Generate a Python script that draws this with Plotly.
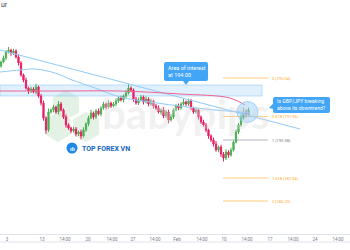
import plotly.graph_objects as go

# ---------------- data ----------------
close = [196.32,196.64,197.12,197.28,197.04,197.20,196.72,196.24,195.28,194.88,
         194.24,194.00,194.16,193.92,194.32,193.60,193.04,191.84,190.88,192.32,
         192.48,192.72,192.32,192.96,192.48,191.92,191.28,191.04,190.80,190.96,
         190.56,190.72,190.40,190.88,191.36,191.84,192.24,191.92,192.40,192.16,
         192.64,192.96,192.72,193.04,192.80,192.96,193.20,193.44,193.28,193.60,
         193.84,194.24,194.08,193.36,193.04,193.28,193.52,193.12,193.36,192.96,
         193.20,192.80,192.64,192.32,192.48,192.00,192.32,191.68,191.92,192.48,
         192.80,192.64,192.96,193.12,192.96,193.20,192.64,192.32,192.48,191.92,
         191.52,191.28,190.88,190.40,190.08,189.76,189.28,189.52,188.96,188.64,
         189.12,188.88,189.28,189.92,190.72,191.28,191.84,192.32,192.08,192.48]
first_open = 196.00
up_wick = [0.12,0.20,0.15,0.24,0.10,0.18,0.14,0.22,0.16,0.12,
           0.20,0.10,0.18,0.14,0.26,0.12,0.16,0.20,0.14,0.28,
           0.12,0.18,0.10,0.24,0.16,0.12,0.20,0.14,0.10,0.18,
           0.16,0.12,0.20,0.22,0.14,0.18,0.26,0.12,0.16,0.20,
           0.14,0.18,0.12,0.22,0.10,0.16,0.20,0.14,0.18,0.12,
           0.24,0.30,0.14,0.12,0.18,0.20,0.16,0.12,0.22,0.14,
           0.18,0.10,0.16,0.20,0.12,0.24,0.14,0.18,0.22,0.12,
           0.16,0.20,0.14,0.26,0.12,0.18,0.16,0.10,0.20,0.14,
           0.12,0.18,0.16,0.10,0.14,0.20,0.24,0.12,0.18,0.16,
           0.22,0.14,0.18,0.12,0.20,0.16,0.28,0.34,0.22,0.18]
down_wick = [0.14,0.10,0.18,0.12,0.22,0.16,0.12,0.20,0.14,0.18,
             0.12,0.24,0.16,0.10,0.18,0.14,0.20,0.22,0.30,0.16,
             0.12,0.18,0.14,0.20,0.10,0.16,0.22,0.14,0.18,0.12,
             0.20,0.16,0.26,0.12,0.14,0.18,0.10,0.20,0.16,0.12,
             0.18,0.14,0.20,0.12,0.16,0.10,0.18,0.14,0.12,0.20,
             0.16,0.12,0.18,0.22,0.14,0.16,0.10,0.20,0.12,0.18,
             0.14,0.20,0.16,0.12,0.22,0.18,0.14,0.26,0.12,0.16,
             0.10,0.18,0.14,0.12,0.20,0.16,0.18,0.14,0.12,0.20,
             0.16,0.14,0.18,0.22,0.16,0.20,0.14,0.18,0.24,0.28,
             0.16,0.22,0.14,0.12,0.10,0.16,0.14,0.12,0.18,0.14]

trend_x = [-0.4, 119.6]
trend_y = [197.28, 190.96]
ma_fast_x = [-0.4, 7.6, 13.6, 21.6, 28.4, 37.6, 47.6, 59.6, 74.4, 85.6, 95.6, 99.6]
ma_fast_y = [195.52, 195.68, 195.76, 195.44, 194.88, 194.24, 193.52, 193.12, 192.72, 192.48, 192.32, 192.24]
ma_slow_x = [-0.4, 23.6, 47.6, 71.6, 91.6, 97.6]
ma_slow_y = [194.00, 194.00, 194.00, 193.76, 193.44, 192.88]

zone_lo, zone_hi = 193.60, 194.48
zone_x = [-0.4, 104.4]
fib_x = [88.8, 106.8]
fib_levels = ["0", "0.618", "1", "1.618", "2"]
fib_prices = [195.04, 191.96, 190.08, 187.04, 185.20]
fib_colors = ["#ffcc80", "#ffcc80", "#b2b5be", "#ffcc80", "#ffcc80"]

tick_pos = [2.4, 16.4, 25.6, 34.8, 44.4, 52.8, 61.6, 70.4, 80.4, 89.2, 98.4, 107.6, 116.8, 125.6, 134.8]
tick_text = ["3", "13", "14:00", "20", "14:00", "27", "14:00", "Feb", "14:00", "10",
             "14:00", "17", "14:00", "24", "14:00"]

# -------------- derived --------------
n = len(close)
idx = list(range(n))
opens = [first_open] + close[:-1]
highs = [max(o, c) + w for o, c, w in zip(opens, close, up_wick)]
lows = [min(o, c) - w for o, c, w in zip(opens, close, down_wick)]

W, PH = 350, 234
def X(px): return px / W
def Y(py): return 1 - py / PH

def rrect(x0, y0, x1, y1, r):
    return (f"M {X(x0+r)},{Y(y0)} L {X(x1-r)},{Y(y0)} Q {X(x1)},{Y(y0)} {X(x1)},{Y(y0+r)} "
            f"L {X(x1)},{Y(y1-r)} Q {X(x1)},{Y(y1)} {X(x1-r)},{Y(y1)} "
            f"L {X(x0+r)},{Y(y1)} Q {X(x0)},{Y(y1)} {X(x0)},{Y(y1-r)} "
            f"L {X(x0)},{Y(y0+r)} Q {X(x0)},{Y(y0)} {X(x0+r)},{Y(y0)} Z")

def hexagon(cx, cy, r):
    import math
    pts = []
    for k in range(6):
        a = math.radians(90 + 60 * k)
        pts.append((cx + r * math.cos(a), cy - r * math.sin(a)))
    return "M " + " L ".join(f"{X(px)},{Y(py)}" for px, py in pts) + " Z"

fig = go.Figure()

fig.add_trace(go.Scatter(x=trend_x, y=trend_y, mode="lines",
                         line=dict(color="#90caf9", width=1), hoverinfo="skip"))
fig.add_trace(go.Scatter(x=ma_fast_x, y=ma_fast_y, mode="lines", line_shape="spline",
                         line=dict(color="#90caf9", width=1), hoverinfo="skip"))
fig.add_trace(go.Scatter(x=ma_slow_x, y=ma_slow_y, mode="lines", line_shape="spline",
                         line=dict(color="#f06292", width=1), hoverinfo="skip"))
fig.add_trace(go.Candlestick(x=idx, open=opens, high=highs, low=lows, close=close,
                             increasing=dict(line=dict(color="#4caf50", width=1), fillcolor="#4caf50"),
                             decreasing=dict(line=dict(color="#e91e63", width=1), fillcolor="#e91e63"),
                             whiskerwidth=0))

shapes = []
# watermark cubes
for cx, cy in [(66, 105), (86, 127), (58, 127)]:
    shapes.append(dict(type="path", xref="paper", yref="paper", path=hexagon(cx, cy, 15),
                       fillcolor="rgba(200,230,201,0.5)", line=dict(width=0), layer="below"))
# zone
shapes.append(dict(type="rect", xref="x", yref="y", x0=zone_x[0], x1=zone_x[1], y0=zone_lo, y1=zone_hi,
                   fillcolor="rgba(144,202,249,0.28)", line=dict(color="rgba(144,202,249,0.55)", width=1),
                   layer="below"))
# fib lines
for lv, p, c in zip(fib_levels, fib_prices, fib_colors):
    shapes.append(dict(type="line", xref="x", yref="y", x0=fib_x[0], x1=fib_x[1], y0=p, y1=p,
                       line=dict(color=c, width=1), layer="below"))
# circle highlight
shapes.append(dict(type="circle", xref="paper", yref="paper", x0=X(237), x1=X(258), y0=Y(101.5), y1=Y(122.5),
                   fillcolor="rgba(144,202,249,0.45)", line=dict(color="rgba(144,202,249,0.8)", width=1)))
# callout boxes
shapes.append(dict(type="path", xref="paper", yref="paper", path=rrect(164, 62, 208, 81, 2),
                   fillcolor="#42a5f5", line=dict(width=0)))
shapes.append(dict(type="path", xref="paper", yref="paper",
                   path=f"M {X(183)},{Y(81)} L {X(189)},{Y(81)} L {X(186)},{Y(85)} Z",
                   fillcolor="#42a5f5", line=dict(width=0)))
shapes.append(dict(type="path", xref="paper", yref="paper", path=rrect(273, 97, 330, 113, 2),
                   fillcolor="#42a5f5", line=dict(width=0)))
shapes.append(dict(type="path", xref="paper", yref="paper",
                   path=f"M {X(273.5)},{Y(103)} L {X(273.5)},{Y(109)} L {X(269)},{Y(108)} Z",
                   fillcolor="#42a5f5", line=dict(width=0)))
# logo icon
shapes.append(dict(type="circle", xref="paper", yref="paper", x0=X(66.5), x1=X(77.5), y0=Y(142.5), y1=Y(153.5),
                   fillcolor="#1e88e5", line=dict(width=0)))
# bottom border of time axis
shapes.append(dict(type="line", xref="paper", yref="paper", x0=0, x1=1, y0=Y(242), y1=Y(242),
                   line=dict(color="#e0e3eb", width=1)))

annotations = []
annotations.append(dict(xref="paper", yref="paper", x=X(185), y=Y(113), text="<b>babypips</b>",
                        showarrow=False, font=dict(family="Lato", size=42, color="rgba(215,215,215,0.35)")))
annotations.append(dict(xref="paper", yref="paper", x=X(166), y=Y(71.5), xanchor="left", yanchor="middle",
                        text="Area of interest<br>at 194.00", align="left", showarrow=False,
                        font=dict(family="Roboto", size=5.5, color="white")))
annotations.append(dict(xref="paper", yref="paper", x=X(275), y=Y(105), xanchor="left", yanchor="middle",
                        text="Is GBP/JPY breaking<br>above its downtrend?", align="left", showarrow=False,
                        font=dict(family="Roboto", size=5.1, color="white")))
for lv, p, c in zip(fib_levels, fib_prices, fib_colors):
    annotations.append(dict(xref="x", yref="y", x=107.6, y=p, xanchor="left", yanchor="middle",
                            text=f"{lv} ({p:.2f})", showarrow=False,
                            font=dict(family="Roboto", size=4, color="#ffa726" if c != "#b2b5be" else "#787b86")))
annotations.append(dict(xref="paper", yref="paper", x=X(80), y=Y(148.5), xanchor="left", yanchor="middle",
                        text="<b>TOP FOREX VN</b>", showarrow=False,
                        font=dict(family="Roboto", size=7, color="#1565c0")))
annotations.append(dict(xref="paper", yref="paper", x=X(72), y=Y(148), xanchor="center", yanchor="middle",
                        text="<b>ılı</b>", showarrow=False, font=dict(family="Roboto", size=6, color="white")))
annotations.append(dict(xref="paper", yref="paper", x=X(-1), y=Y(5), xanchor="left", yanchor="middle",
                        text="ur", showarrow=False, font=dict(family="Roboto", size=7, color="#434651")))

fig.update_layout(
    width=350, height=250,
    margin=dict(l=0, r=0, t=0, b=16),
    paper_bgcolor="white", plot_bgcolor="white",
    showlegend=False,
    shapes=shapes, annotations=annotations,
    xaxis=dict(range=[-0.4, 139.6], rangeslider=dict(visible=False), showgrid=False, zeroline=False,
               tickmode="array", tickvals=tick_pos, ticktext=tick_text, ticks="",
               tickfont=dict(family="Roboto", size=4.5, color="#787b86"),
               showline=True, linecolor="#e0e3eb", linewidth=1, ticklabelstandoff=1),
    yaxis=dict(range=[182.56, 201.28], showgrid=False, zeroline=False, showticklabels=False, showline=False),
)

fig.write_html("out.html")
